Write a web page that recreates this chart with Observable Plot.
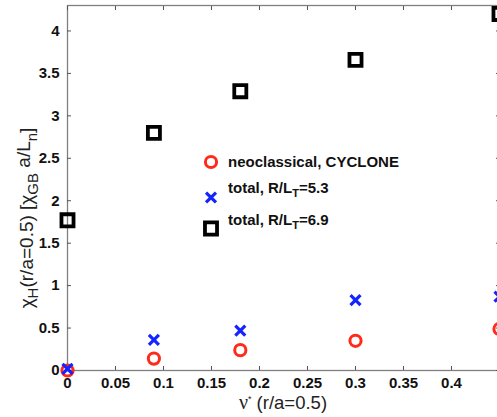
<!DOCTYPE html>
<html><head><meta charset="utf-8">
<script src="https://cdn.jsdelivr.net/npm/d3@7"></script>
<script src="https://cdn.jsdelivr.net/npm/@observablehq/plot@0.6"></script>
<style>body{margin:0;background:#fff;overflow:hidden}</style>
</head><body><div id="chart"></div>
<script>
// ---- data ----
const nu = [0, 0.09, 0.18, 0.30, 0.45];
const neoclassical = [0.00, 0.14, 0.24, 0.35, 0.49];
const total53 = [0.02, 0.36, 0.47, 0.83, 0.87];
const total69 = [1.77, 2.80, 3.29, 3.66, 4.20];
const xTicks = [0, 0.05, 0.1, 0.15, 0.2, 0.25, 0.3, 0.35, 0.4];
const yTicks = [0, 0.5, 1, 1.5, 2, 2.5, 3, 3.5, 4];
const xTickLabels = ["0", "0.05", "0.1", "0.15", "0.2", "0.25", "0.3", "0.35", "0.4"];
const yTickLabels = ["0", "0.5", "1", "1.5", "2", "2.5", "3", "3.5", "4"];
const seriesNames = ["neoclassical, CYCLONE", "total, R/L_T=5.3", "total, R/L_T=6.9"];
const seriesColors = ["#ff2a1a", "#1424ff", "#000000"];

const rowsNeo = nu.map((x, i) => ({x, y: neoclassical[i]}));
const rows53 = nu.map((x, i) => ({x, y: total53[i]}));
const rows69 = nu.map((x, i) => ({x, y: total69[i]}));

const FONT = "'Liberation Sans', Arial, Helvetica, sans-serif";
const R_CIRCLE = 5.6, R_TIMES = 4.6, R_SQUARE = 6.8;

const plot = Plot.plot({
  width: 497, height: 417,
  marginLeft: 67, marginRight: -2, marginTop: 5, marginBottom: 47,
  style: {fontFamily: FONT, background: "white", overflow: "hidden"},
  x: {domain: [0, 0.45]},
  y: {domain: [0, 4.3]},
  marks: [
    Plot.frame({stroke: "#808080", strokeWidth: 1.3}),
    Plot.axisX(xTicks, {anchor: "bottom", tickSize: 0, tickPadding: 7, tickFormat: (d, i) => xTickLabels[i], fontSize: 15, fontWeight: "bold", fill: "#111", label: null}),
    Plot.axisX(xTicks, {anchor: "bottom", tickSize: -4, tickFormat: () => "", stroke: "#555", label: null}),
    Plot.axisX(xTicks, {anchor: "top", tickSize: -4, tickFormat: () => "", stroke: "#555", label: null}),
    Plot.axisY(yTicks, {anchor: "left", tickSize: 0, tickPadding: 8, tickFormat: (d, i) => yTickLabels[i], fontSize: 15, fontWeight: "bold", fill: "#111", label: null}),
    Plot.axisY(yTicks, {anchor: "left", tickSize: -4, tickFormat: () => "", stroke: "#555", label: null}),
    Plot.axisY(yTicks, {anchor: "right", tickSize: -4, tickFormat: () => "", stroke: "#555", label: null}),
    Plot.dot(rowsNeo, {x: "x", y: "y", symbol: "circle", r: R_CIRCLE, stroke: seriesColors[0], strokeWidth: 3, fill: "none"}),
    Plot.dot(rows53, {x: "x", y: "y", symbol: "times", r: R_TIMES, stroke: seriesColors[1], strokeWidth: 3.2, fill: "none"}),
    Plot.dot(rows69, {x: "x", y: "y", symbol: "square", r: R_SQUARE, stroke: seriesColors[2], strokeWidth: 3.8, fill: "none"})
  ]
});
document.getElementById("chart").appendChild(plot);

const svg = d3.select(plot);

// ---- legend ----
const lg = svg.append("g").attr("font-family", FONT).attr("font-weight", "bold").attr("font-size", 15)
  .attr("fill", "#111").attr("text-anchor", "start");
const legendRows = [
  {sym: d3.symbolCircle, r: R_CIRCLE, sw: 3, cy: 162, ty: 167},
  {sym: d3.symbolTimes, r: R_TIMES, sw: 3.2, cy: 197.5, ty: 193},
  {sym: d3.symbolSquare, r: R_SQUARE, sw: 3.8, cy: 228.5, ty: 224.5}
];
legendRows.forEach((row, i) => {
  lg.append("path")
    .attr("transform", `translate(211,${row.cy})`)
    .attr("d", d3.symbol(row.sym, Math.PI * row.r * row.r)())
    .attr("fill", "none").attr("stroke", seriesColors[i]).attr("stroke-width", row.sw);
  const t = lg.append("text").attr("x", 228).attr("y", row.ty).attr("text-anchor", "start");
  const name = seriesNames[i];
  const m = name.split("_");
  if (m.length === 1) {
    t.text(name);
  } else {
    t.append("tspan").text(m[0]);
    t.append("tspan").attr("font-size", 11).attr("dy", 4).text(m[1][0]);
    t.append("tspan").attr("dy", -4).text(m[1].slice(1));
  }
});

// ---- axis labels ----
const xl = svg.append("text").attr("x", 283).attr("y", 409).attr("text-anchor", "middle")
  .attr("font-family", FONT).attr("font-size", 18.5).attr("fill", "#222");
xl.append("tspan").attr("font-family", "'Liberation Serif', serif").attr("font-size", 20).text("ν");
xl.append("tspan").attr("font-size", 9).attr("dy", -7).text("*");
xl.append("tspan").attr("dy", 7).text(" (r/a=0.5)");

const yl = svg.append("text").attr("transform", "translate(33,218) rotate(-90)").attr("text-anchor", "middle")
  .attr("font-family", FONT).attr("font-size", 19).attr("fill", "#222");
yl.append("tspan").text("χ");
yl.append("tspan").attr("font-size", 15).attr("dy", 5).text("H");
yl.append("tspan").attr("dy", -5).text("(r/a=0.5) [χ");
yl.append("tspan").attr("font-size", 15).attr("dy", 5).text("GB");
yl.append("tspan").attr("dy", -8).text(" a/L");
yl.append("tspan").attr("font-size", 15).attr("dy", 7).text("n");
yl.append("tspan").attr("dy", -4).text("]");
</script>
</body></html>
